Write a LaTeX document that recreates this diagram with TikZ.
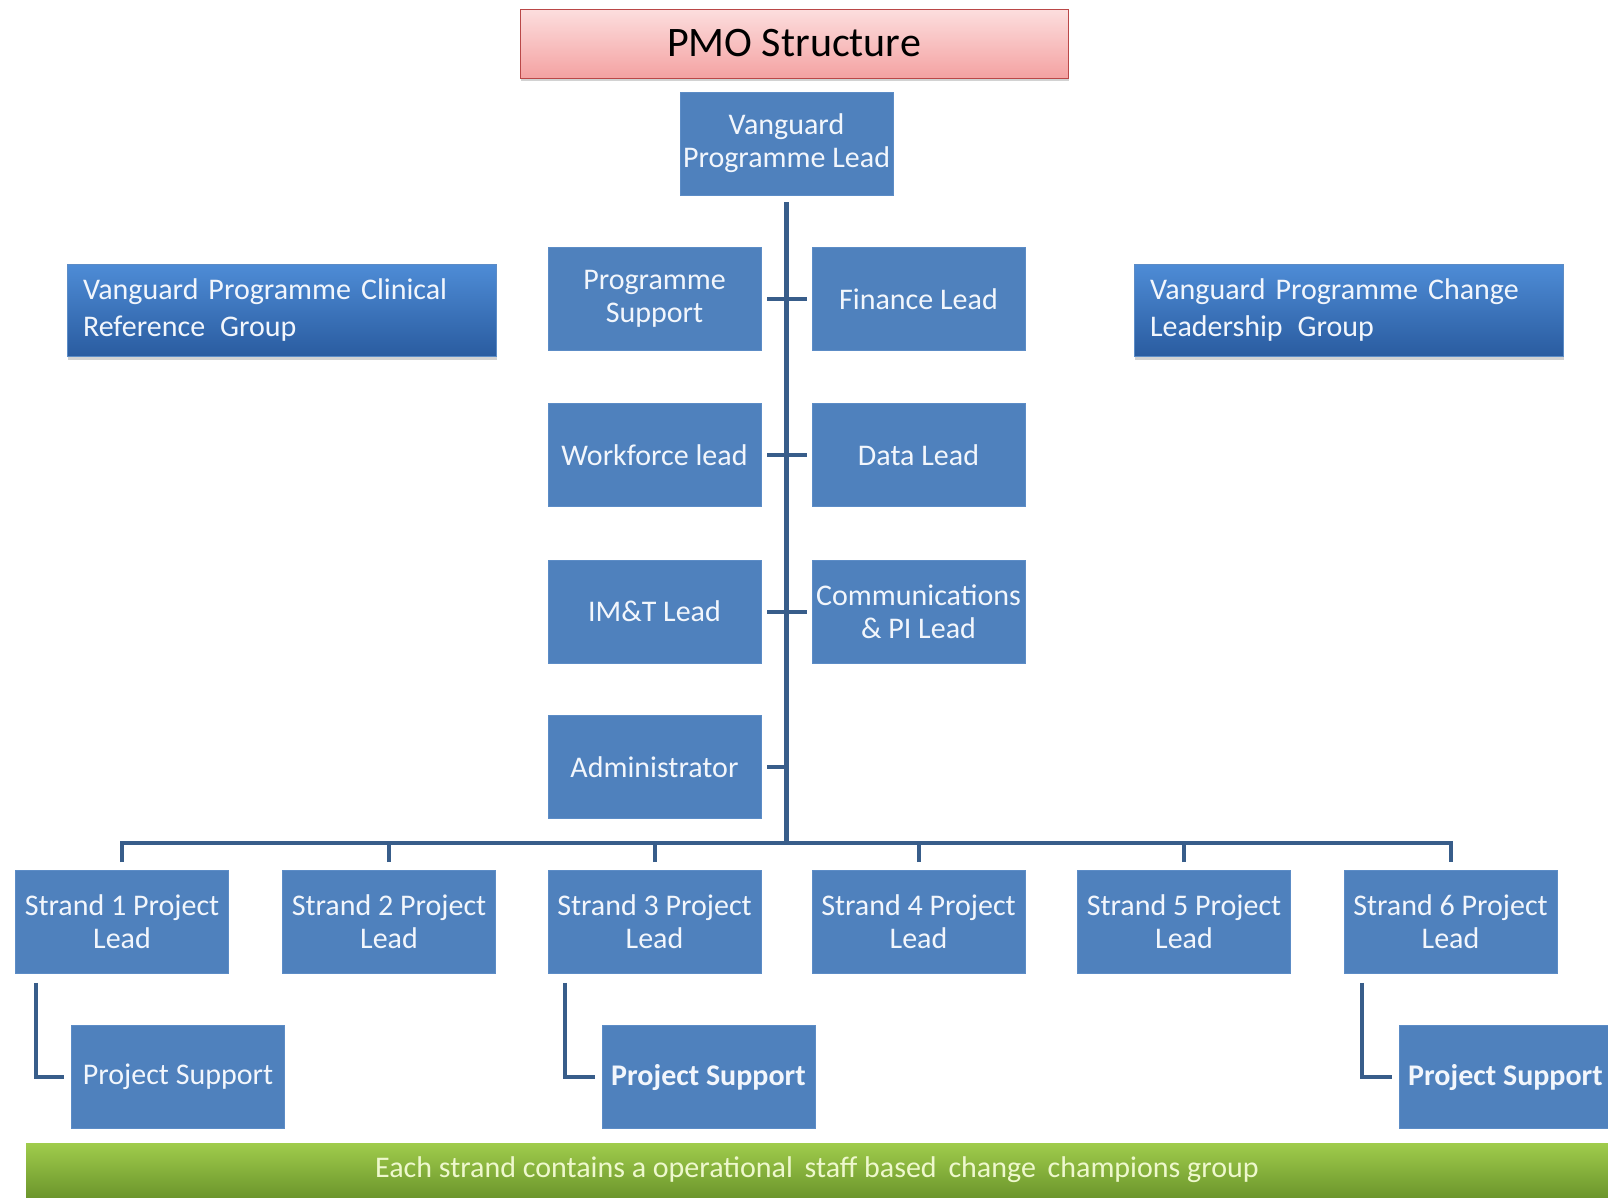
\documentclass[tikz,border=0pt]{standalone}
\usepackage{fontspec}
\setmainfont{Carlito}
\usetikzlibrary{shadows}

\definecolor{boxblue}{RGB}{79,129,189}
\definecolor{boxedge}{RGB}{92,140,198}
\definecolor{boxtext}{RGB}{242,246,252}
\definecolor{linecol}{RGB}{56,93,138}
\definecolor{grouptop}{RGB}{78,140,214}
\definecolor{groupbot}{RGB}{42,92,160}
\definecolor{pinktop}{RGB}{252,222,222}
\definecolor{pinkbot}{RGB}{244,162,162}
\definecolor{pinkedge}{RGB}{186,72,72}
\definecolor{greentop}{RGB}{160,204,76}
\definecolor{greenbot}{RGB}{108,150,44}
\definecolor{greentext}{RGB}{238,248,205}

\begin{document}
\begin{tikzpicture}[x=1pt,y=-1pt,
  unitbox/.style={fill=boxblue, draw=boxedge, line width=0.8pt,
    minimum width=213pt, minimum height=103pt, inner sep=1pt,
    text=boxtext, align=center, font=\fontsize{30pt}{33pt}\selectfont},
  boldbox/.style={unitbox, font=\fontsize{30pt}{33pt}\selectfont\bfseries},
  groupbox/.style={top color=grouptop, bottom color=groupbot, draw=boxedge,
    line width=0.6pt, minimum height=92pt, text width=397pt, inner xsep=16pt,
    align=left, text=boxtext, font=\fontsize{30pt}{37pt}\selectfont,
    drop shadow={opacity=0.35, shadow xshift=1pt, shadow yshift=-4pt}},
  titlebox/.style={top color=pinktop, bottom color=pinkbot, draw=pinkedge,
    line width=0.8pt, minimum width=548pt, minimum height=69pt,
    font=\fontsize{42pt}{46pt}\selectfont, text=black,
    drop shadow={opacity=0.35, shadow xshift=1pt, shadow yshift=-3pt}},
  bandbox/.style={top color=greentop, bottom color=greenbot, draw=none,
    minimum width=1582pt, minimum height=54pt, text=greentext,
    font=\fontsize{30pt}{33pt}\selectfont},
  trunk/.style={draw=linecol, line width=5pt},
  link/.style={draw=linecol, line width=4pt}]

\useasboundingbox (0,0) rectangle (1608,1197);
\fill[white] (0,0) rectangle (1608,1197);
\clip (0,0) rectangle (1608,1197);

% title and head of the programme
\node[titlebox] (pmo) at (794,43.5) {PMO Structure};
\node[unitbox] (vpl) at (786.5,143.5) {Vanguard\\Programme Lead};

% side groups
\node[groupbox] (clin) at (281.5,310) {Vanguard Programme Clinical\\Reference\, Group};
\node[groupbox] (chg) at (1348.5,310) {Vanguard Programme Change\\Leadership\, Group};

% central team
\node[unitbox] (psup) at (654.5,299) {Programme\\Support};
\node[unitbox] (fin)  at (918.5,299) {Finance Lead};
\node[unitbox] (wf)   at (654.5,455) {Workforce lead};
\node[unitbox] (data) at (918.5,455) {Data Lead};
\node[unitbox] (imt)  at (654.5,611.5) {IM\&T Lead};
\node[unitbox] (comm) at (918.5,611.5) {Communications\\\& PI Lead};
\node[unitbox] (adm)  at (654.5,767) {Administrator};

% strand leads
\node[unitbox] (s1) at (122,922)   {Strand 1 Project\\Lead};
\node[unitbox] (s2) at (389,922)   {Strand 2 Project\\Lead};
\node[unitbox] (s3) at (654.5,922) {Strand 3 Project\\Lead};
\node[unitbox] (s4) at (918.5,922) {Strand 4 Project\\Lead};
\node[unitbox] (s5) at (1184,922)  {Strand 5 Project\\Lead};
\node[unitbox] (s6) at (1450.5,922) {Strand 6 Project\\Lead};

% project support under strands
\node[unitbox] (p1) at (178,1077)    {Project Support};
\node[boldbox] (p3) at (708.5,1077)  {Project Support};
\node[boldbox] (p6) at (1505.5,1077) {Project Support};

% footer band
\node[bandbox] (band) at (817,1170) {Each strand contains a operational\, staff based\, change\, champions group};

% connectors
\coordinate (hub) at (786.5,843);
\draw[trunk] ([yshift=-7pt]vpl.south) -- (hub);
\draw[link] ([xshift=6pt]psup.east) -- ([xshift=-5pt]fin.west);
\draw[link] ([xshift=6pt]wf.east) -- ([xshift=-5pt]data.west);
\draw[link] ([xshift=6pt]imt.east) -- ([xshift=-5pt]comm.west);
\draw[link] ([xshift=6pt]adm.east) -- (adm.east -| hub);

\draw[link] ([yshift=8pt]s1.north) |- (hub) -| ([yshift=8pt]s6.north);
\foreach \s in {s2,s3,s4,s5}
  \draw[link] ([yshift=8pt]\s.north) -- (\s.north |- hub);

\draw[link] ([xshift=21pt,yshift=-9pt]s1.south west) |- ([xshift=-7pt]p1.west);
\draw[link] ([xshift=17pt,yshift=-9pt]s3.south west) |- ([xshift=-7pt]p3.west);
\draw[link] ([xshift=18pt,yshift=-9pt]s6.south west) |- ([xshift=-7pt]p6.west);
\end{tikzpicture}
\end{document}
